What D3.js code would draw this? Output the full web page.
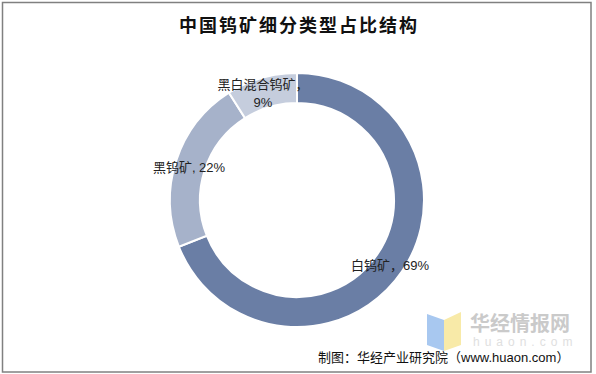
<!DOCTYPE html>
<meta charset="utf-8">
<script src="https://d3js.org/d3.v7.min.js"></script>
<title>中国钨矿细分类型占比结构</title>
<style>
  body { margin: 0; background: #fff; }
  text { font-family: "Liberation Sans", "Noto Sans CJK SC", sans-serif; }
</style>
<div id="my_dataviz"></div>
<script>
  // data
  const categories = ["白钨矿", "黑钨矿", "黑白混合钨矿"];
  const shares = [69, 22, 9];
  const labelLines = [["白钨矿，69%"], ["黑钨矿, 22%"], ["黑白混合钨矿，", "9%"]];
  const sliceColors = ["#6a7ea5", "#a6b2ca", "#c5cddd"];

  const width = 596, height = 374;
  const cx = 297, cy = 200, outerR = 127, innerR = 97;

  const svg = d3.select("#my_dataviz")
    .append("svg")
    .attr("width", width)
    .attr("height", height);

  // frame
  svg.append("rect")
    .attr("x", 2.5).attr("y", 2.5)
    .attr("width", 588.5).attr("height", 369.5)
    .attr("fill", "none")
    .attr("stroke", "#808080")
    .attr("stroke-width", 1.5);

  // title
  svg.append("text")
    .attr("x", 299).attr("y", 32)
    .attr("text-anchor", "middle")
    .style("font-family", "'Noto Sans CJK SC', sans-serif")
    .style("font-size", "18px")
    .style("letter-spacing", "2px")
    .style("font-weight", "bold")
    .style("fill", "#111")
    .text("中国钨矿细分类型占比结构");

  const data = categories.map((c, i) => ({ name: c, value: shares[i], lines: labelLines[i], color: sliceColors[i] }));

  const pie = d3.pie().value(d => d.value).sort(null);
  const arc = d3.arc().innerRadius(innerR).outerRadius(outerR);

  const g = svg.append("g").attr("transform", `translate(${cx},${cy})`);

  g.selectAll("path")
    .data(pie(data))
    .join("path")
    .attr("d", arc)
    .attr("fill", d => d.data.color)
    .attr("stroke", "#fff")
    .attr("stroke-width", 2);

  // data labels, placed near each slice
  const labelPos = [[93, 70], [-108, -28], [-34, -111]];
  const labels = g.selectAll("text.lbl")
    .data(data)
    .join("text")
    .attr("class", "lbl")
    .attr("text-anchor", "middle")
    .style("font-size", "13px")
    .style("fill", "#222");

  labels.each(function(d, i) {
    const t = d3.select(this);
    d.lines.forEach((line, j) => {
      t.append("tspan")
        .attr("x", labelPos[i][0])
        .attr("y", labelPos[i][1] + j * 18)
        .text(line);
    });
  });

  // watermark
  const wm = svg.append("g").attr("transform", "translate(427,312)");
  wm.append("path")
    .attr("d", "M0,2 L17,8 L17,39 L0,33 Z")
    .attr("fill", "#a8c8f0");
  wm.append("path")
    .attr("d", "M17,8 L34,0 L34,33 L17,39 Z")
    .attr("fill", "#f8eaa8");
  svg.append("text")
    .attr("x", 470).attr("y", 331)
    .style("font-family", "'Noto Sans CJK SC', sans-serif")
    .style("font-size", "20px")
    .style("font-weight", "bold")
    .style("fill", "#cacaca")
    .text("华经情报网");
  svg.append("text")
    .attr("x", 473).attr("y", 346)
    .style("font-size", "12px")
    .style("letter-spacing", "5px")
    .style("fill", "#e0e0e0")
    .text("huaon.com");

  // source note
  svg.append("text")
    .attr("x", 318).attr("y", 362)
    .style("font-size", "13px")
    .style("fill", "#111")
    .text("制图：华经产业研究院（www.huaon.com）");
</script>
